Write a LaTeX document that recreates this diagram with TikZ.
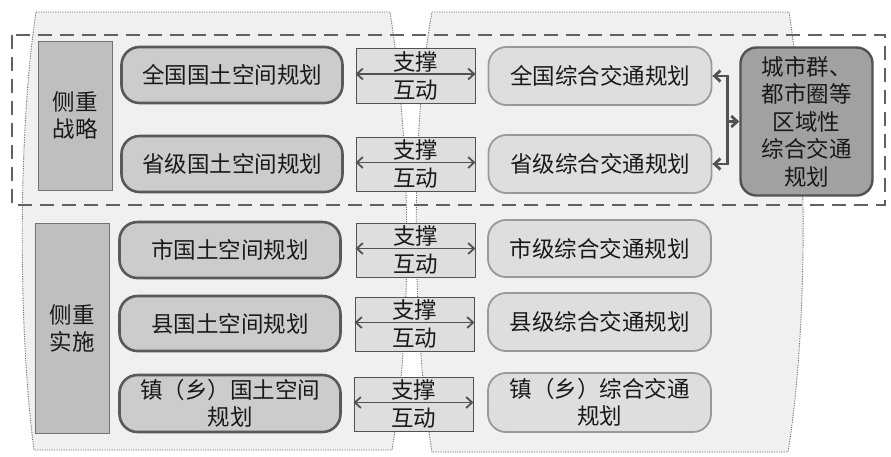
\documentclass[tikz,border=0pt]{standalone}
\usepackage{fontspec}
\setmainfont{Noto Sans CJK SC}
\usetikzlibrary{arrows.meta,positioning}

\begin{document}
\begin{tikzpicture}[x=1pt,y=-1pt,
  every node/.style={font=\fontsize{22.5}{27}\selectfont, text=black!90, align=center},
  panel/.style={draw=black!55, fill=black!6, line width=0.9pt, dash pattern=on 1.2pt off 1.2pt},
  tagbox/.style={draw=black!55, fill=black!25, line width=0.8pt, minimum width=74pt, inner sep=1pt},
  landbox/.style={draw=black!65, line width=2.6pt, fill=black!20, rounded corners=18pt, minimum width=221pt, inner sep=1pt},
  linkbox/.style={draw=black!68, line width=0.9pt, fill=black!13, minimum width=119pt, minimum height=54pt, inner sep=0pt, font=\fontsize{22.5}{28}\selectfont},
  trafbox/.style={draw=black!40, line width=1.8pt, fill=black!13, rounded corners=18pt, minimum width=223pt, inner sep=1pt},
  citybox/.style={draw=black!68, line width=2.4pt, fill=black!37, rounded corners=16pt, minimum width=132pt, minimum height=148pt, inner sep=1pt},
  link/.style={{Straight Barb[length=6pt,width=11pt]}-{Straight Barb[length=6pt,width=11pt]}, draw=black!68, line width=1.8pt},
  feed/.style={draw=black!68, line width=2.8pt, -{Straight Barb[length=6pt,width=11pt]}}]
  \useasboundingbox (0,0) rectangle (891,456);

  % Background panels
  \draw[panel] (36,12) -- (390,12) .. controls (412,150) and (412,330) .. (392,450)
    -- (34,450) .. controls (18,330) and (18,130) .. (36,12) -- cycle;
  \draw[panel] (432,12) -- (789,12) .. controls (808,130) and (808,330) .. (788,452)
    -- (432,452) .. controls (412,330) and (410,130) .. (432,12) -- cycle;

  % Strategic frame
  \draw[draw=black!62, line width=1.8pt, dash pattern=on 14pt off 8pt] (12,35) rectangle (885,205);

  % Side tags
  \node[tagbox, minimum height=149pt] (strat) at (75,115.5) {侧重\\战略};
  \node[tagbox, minimum height=210pt] (impl) at (72,328) {侧重\\实施};

  % Land planning boxes
  \node[landbox, minimum height=56pt] (land1) at (232,75) {全国国土空间规划};
  \node[landbox, minimum height=56pt] (land2) at (232,164) {省级国土空间规划};
  \node[landbox, minimum height=56pt] (land3) at (230,250) {市国土空间规划};
  \node[landbox, minimum height=55pt] (land4) at (230,323.5) {县国土空间规划};
  \node[landbox, minimum height=57pt] (land5) at (230,403.5) {镇（乡）国土空间\\规划};

  % Support boxes
  \node[linkbox, minimum height=55pt] (link1) at (415.5,75.5) {支撑\\互动};
  \node[linkbox] (link2) at (415.5,164) {支撑\\互动};
  \node[linkbox] (link3) at (415.5,250) {支撑\\互动};
  \node[linkbox] (link4) at (414.5,324) {支撑\\互动};
  \node[linkbox] (link5) at (413.5,404) {支撑\\互动};

  % Transport planning boxes
  \node[trafbox, minimum height=58pt] (traf1) at (600,76) {全国综合交通规划};
  \node[trafbox, minimum height=58pt] (traf2) at (600,164) {省级综合交通规划};
  \node[trafbox, minimum height=57pt] (traf3) at (599.5,248.5) {市级综合交通规划};
  \node[trafbox, minimum height=58pt] (traf4) at (599.5,322) {县级综合交通规划};
  \node[trafbox, minimum height=59pt] (traf5) at (599.5,402.5) {镇（乡）综合交通\\规划};

  % Regional box
  \node[citybox, font=\fontsize{22.5}{27.5}\selectfont] (city) at (806.5,121.5) {城市群、\\都市圈等\\区域性\\综合交通\\规划};

  % Arrows
  \foreach \i in {1,...,5}
    \draw[link] ([yshift=1.5pt]link\i.west) -- ([yshift=1.5pt]link\i.east);
  \coordinate (junc) at (727,121.5);
  \draw[feed, {Straight Barb[length=6pt,width=11pt]}-{Straight Barb[length=6pt,width=11pt]}]
    (traf1.east) -- ++(15,0) |- (traf2.east);
  \draw[feed] (junc) -- (city.west);
\end{tikzpicture}
\end{document}
